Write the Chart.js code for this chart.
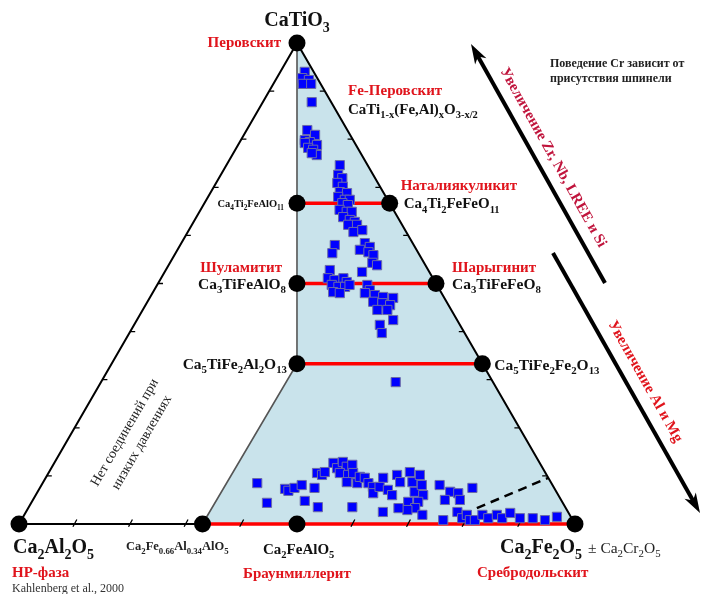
<!DOCTYPE html>
<html>
<head>
<meta charset="utf-8">
<script src="https://cdn.jsdelivr.net/npm/chart.js@4/dist/chart.umd.min.js"></script>
<style>
  html, body { margin: 0; padding: 0; background: #fff; }
  canvas { display: block; }
</style>
</head>
<body>
<canvas id="c" width="705" height="594"></canvas>
<script>
// Ternary system CaTiO3 – Ca2Al2O5 – Ca2Fe2O5.
// Compositions are mole fractions (%) of the CaTiO3 (Ti) and Ca2Fe2O5 (Fe) components;
// the Ca2Al2O5 share is the remainder.

// Analysed grains
const tiPct = [
  94.0, 92.7, 92.3, 91.5, 91.5, 87.7,
  81.9, 80.9, 79.8, 79.4, 78.8, 79.2, 78.2, 77.8, 76.7, 77.1, 74.6,
  72.6, 71.9, 70.9, 70.1, 69.0, 68.8, 68.0, 67.4, 67.4, 66.7, 66.3, 65.3, 64.9, 64.9, 63.8, 63.2, 62.8, 62.2, 62.2, 60.7, 61.1,
  58.0, 56.3,
  58.4, 57.6, 57.0, 56.5, 55.9, 54.3, 53.8, 52.4,
  52.8, 51.1, 50.7, 51.1, 50.3, 49.7, 49.3, 49.3, 49.7, 48.2, 48.0,
  49.7, 48.6, 47.6, 48.0, 47.2, 47.0, 46.2, 45.9, 45.5, 44.5, 44.5, 42.4, 41.4, 39.7,
  29.5,
  8.5, 4.4, 7.3, 6.9, 7.5, 8.1, 4.8, 7.5, 3.5, 10.6, 10.2, 10.8, 12.7, 11.6, 12.9, 11.9, 12.3, 10.6, 10.2, 10.6,
  8.7, 8.5, 9.8, 9.6, 8.5, 7.7, 6.4, 3.5, 9.6, 7.7, 7.1, 6.0, 10.2, 8.7, 10.8, 8.7, 6.7, 10.2, 8.1, 6.0,
  4.6, 4.6, 3.3, 2.9, 3.3, 2.5, 1.9, 8.1, 6.7, 5.0, 6.4, 5.0, 7.5, 0.8, 2.5, 1.2, 1.9, 0.8, 0.8, 1.9,
  1.2, 1.9, 1.2, 2.3, 1.2, 1.2, 0.8, 1.5
];
const fePct = [
  4.4, 4.6, 6.0, 5.3, 6.8, 8.8,
  10.9, 12.8, 11.5, 12.6, 14.2, 11.8, 12.9, 14.0, 15.2, 14.1, 20.4,
  21.1, 22.2, 21.8, 23.2, 23.2, 24.6, 23.4, 24.9, 25.8, 24.8, 26.0, 25.0, 26.5, 27.4, 26.4, 27.9, 29.0, 28.1, 29.7, 29.8, 31.2,
  27.8, 28.2,
  33.0, 34.3, 32.8, 34.6, 35.8, 36.4, 37.5, 35.5,
  29.5, 30.0, 31.4, 32.8, 33.8, 31.4, 32.8, 34.0, 34.6, 32.4, 33.7,
  37.8, 38.8, 40.2, 38.2, 41.9, 43.8, 40.6, 42.4, 44.0, 42.2, 44.0, 46.1, 44.2, 45.4,
  53.0,
  38.6, 42.4, 44.2, 45.0, 45.8, 46.8, 49.0, 49.4, 52.0, 48.3, 49.4, 49.6, 50.2, 51.4, 51.8, 53.0, 53.8, 52.4, 54.1, 54.8,
  54.6, 56.6, 56.4, 57.4, 58.6, 59.8, 60.5, 58.2, 60.7, 61.0, 62.8, 64.1, 62.9, 64.2, 64.9, 66.4, 67.8, 67.0, 68.4, 69.7,
  69.5, 67.7, 69.6, 68.4, 66.6, 64.2, 71.6, 71.6, 74.2, 74.1, 75.8, 76.8, 77.8, 75.9, 77.6, 79.1, 79.6, 80.7, 81.6, 82.4,
  83.8, 85.0, 86.3, 87.2, 89.5, 91.8, 94.2, 96.0
];

// Named phases (black nodes)
const phaseNames = ['CaTiO3', 'Ca4Ti2FeAlO11', 'Ca4Ti2FeFeO11', 'Ca3TiFeAlO8', 'Ca3TiFeFeO8',
  'Ca5TiFe2Al2O13', 'Ca5TiFe2Fe2O13', 'Ca2Al2O5', 'Ca2Fe0.66Al0.34AlO5', 'Ca2FeAlO5', 'Ca2Fe2O5'];
const phaseTi = [100, 66.67, 66.67, 50, 50, 33.33, 33.33, 0, 0, 0, 0];
const phaseFe = [0, 16.67, 33.33, 25, 50, 33.33, 66.67, 0, 33, 50, 100];

// Stability field of the Fe-rich solid solutions (shaded)
const fieldTi = [100, 33.33, 0, 0, 100];
const fieldFe = [0, 33.33, 33, 100, 0];

// Solid-solution joins (red): constant Ti, Fe from → to
const joinTi = [66.67, 50, 33.33, 0];
const joinFeFrom = [16.67, 25, 33.33, 33];
const joinFeTo = [33.33, 50, 66.67, 100];

// Spinel-dependent Cr limit (dashed)
const crTi = [3.3, 9.6];
const crFe = [80.7, 90.4];

// Edge ticks, %
const tickSteps = [10, 20, 30, 40, 50, 60, 70, 80, 90];

const H = Math.sqrt(3) / 2;
function tern(ti, fe) { ti /= 100; fe /= 100; return { x: fe + ti / 2, y: ti * H }; }
const GAP = { x: null, y: null };

const points = tiPct.map((t, i) => tern(t, fePct[i]));
const nodes = phaseTi.map((t, i) => tern(t, phaseFe[i]));
const field = fieldTi.map((t, i) => tern(t, fieldFe[i]));
const joins = [];
joinTi.forEach((t, i) => { joins.push(tern(t, joinFeFrom[i]), tern(t, joinFeTo[i]), GAP); });
const frame = [tern(100, 0), tern(0, 0), tern(0, 100), tern(100, 0)];
const divide = [tern(100, 0), tern(33.33, 33.33), tern(0, 33)];
const crLine = crTi.map((t, i) => tern(t, crFe[i]));

const ticks = [];
tickSteps.forEach(s => {
  const l = tern(s, 0); ticks.push(l, { x: l.x + 0.009, y: l.y }, GAP);
  const r = tern(s, 100 - s); ticks.push(r, { x: r.x - 0.009, y: r.y }, GAP);
  const b = tern(0, s); ticks.push({ x: b.x - 0.003, y: -0.005 }, { x: b.x + 0.004, y: 0.008 }, GAP);
});

function lineSet(data, color, width, order, extra) {
  return Object.assign({
    type: 'line', data, borderColor: color, borderWidth: width, pointRadius: 0,
    pointHoverRadius: 0, fill: false, tension: 0, order, clip: false, spanGaps: false
  }, extra || {});
}

const SERIF = '"Liberation Serif", "DejaVu Serif", serif';

function parseRich(s) {
  const out = []; const re = /_\{([^}]*)\}/g; let last = 0, m;
  while ((m = re.exec(s))) {
    if (m.index > last) out.push({ t: s.slice(last, m.index), sub: false });
    out.push({ t: m[1], sub: true }); last = re.lastIndex;
  }
  if (last < s.length) out.push({ t: s.slice(last), sub: false });
  return out;
}
function drawRich(ctx, s, x, y, o) {
  const size = o.size, w8 = o.bold === false ? '' : 'bold ';
  const parts = parseRich(s); let w = 0;
  parts.forEach(p => {
    ctx.font = w8 + (p.sub ? size * 0.7 : size) + 'px ' + SERIF;
    p.w = ctx.measureText(p.t).width; w += p.w;
  });
  let cx = o.align === 'right' ? x - w : o.align === 'center' ? x - w / 2 : x;
  ctx.fillStyle = o.color || '#111';
  ctx.textAlign = 'left'; ctx.textBaseline = 'alphabetic';
  parts.forEach(p => {
    ctx.font = w8 + (p.sub ? size * 0.7 : size) + 'px ' + SERIF;
    ctx.fillText(p.t, cx, y + (p.sub ? size * 0.28 : 0)); cx += p.w;
  });
}
function rotated(ctx, s, cx, cy, ang, o) {
  ctx.save(); ctx.translate(cx, cy); ctx.rotate(ang);
  drawRich(ctx, s, 0, o.size * 0.33, Object.assign({ align: 'center' }, o));
  ctx.restore();
}
function arrow(ctx, x0, y0, x1, y1) {
  const a = Math.atan2(y1 - y0, x1 - x0), hl = 20, hw = 6.5;
  ctx.save();
  ctx.strokeStyle = '#000'; ctx.lineWidth = 4; ctx.lineCap = 'butt';
  ctx.beginPath(); ctx.moveTo(x0, y0);
  ctx.lineTo(x1 - Math.cos(a) * hl * 0.7, y1 - Math.sin(a) * hl * 0.7); ctx.stroke();
  ctx.translate(x1, y1); ctx.rotate(a);
  ctx.beginPath(); ctx.moveTo(0, 0); ctx.lineTo(-hl, -hw); ctx.lineTo(-hl * 0.72, 0); ctx.lineTo(-hl, hw);
  ctx.closePath(); ctx.fillStyle = '#000'; ctx.fill();
  ctx.restore();
}

const RED = '#e0141c';

const labels = {
  id: 'labels',
  afterDraw(chart) {
    const ctx = chart.ctx, sx = chart.scales.x, sy = chart.scales.y;
    const px = i => [sx.getPixelForValue(nodes[i].x), sy.getPixelForValue(nodes[i].y)];
    ctx.save();
    const [ax, ay] = px(0);
    drawRich(ctx, 'CaTiO_{3}', ax, ay - 17, { size: 20, align: 'center' });
    drawRich(ctx, 'Перовскит', ax - 16, ay + 4, { size: 15, align: 'right', color: RED });
    drawRich(ctx, 'Fe-Перовскит', 348, 95, { size: 15, color: RED });
    drawRich(ctx, 'CaTi_{1-x}(Fe,Al)_{x}O_{3-x/2}', 348, 114, { size: 15 });

    const [a1x, a1y] = px(1), [b1x, b1y] = px(2);
    drawRich(ctx, 'Ca_{4}Ti_{2}FeAlO_{11}', a1x - 13, a1y + 4, { size: 10.5, align: 'right' });
    drawRich(ctx, 'Наталиякуликит', b1x + 11, b1y - 13, { size: 15, color: RED });
    drawRich(ctx, 'Ca_{4}Ti_{2}FeFeO_{11}', b1x + 14, b1y + 5, { size: 15 });

    const [a2x, a2y] = px(3), [b2x, b2y] = px(4);
    drawRich(ctx, 'Шуламитит', a2x - 15, a2y - 12, { size: 15, align: 'right', color: RED });
    drawRich(ctx, 'Ca_{3}TiFeAlO_{8}', a2x - 11, a2y + 5, { size: 15.5, align: 'right' });
    drawRich(ctx, 'Шарыгинит', b2x + 16, b2y - 12, { size: 15, color: RED });
    drawRich(ctx, 'Ca_{3}TiFeFeO_{8}', b2x + 16, b2y + 5, { size: 15.5 });

    const [a3x, a3y] = px(5), [b3x, b3y] = px(6);
    drawRich(ctx, 'Ca_{5}TiFe_{2}Al_{2}O_{13}', a3x - 10, a3y + 5, { size: 15.5, align: 'right' });
    drawRich(ctx, 'Ca_{5}TiFe_{2}Fe_{2}O_{13}', b3x + 12, b3y + 6, { size: 15.5 });

    drawRich(ctx, 'Ca_{2}Al_{2}O_{5}', 13, 553, { size: 20 });
    drawRich(ctx, 'HP-фаза', 12, 577, { size: 15, color: RED });
    drawRich(ctx, 'Kahlenberg et al., 2000', 12, 592, { size: 12, bold: false, color: '#333' });
    drawRich(ctx, 'Ca_{2}Fe_{0.66}Al_{0.34}AlO_{5}', 126, 550, { size: 12.5, color: '#222' });
    drawRich(ctx, 'Ca_{2}FeAlO_{5}', 263, 554, { size: 15 });
    drawRich(ctx, 'Браунмиллерит', 243, 578, { size: 15, color: RED });
    drawRich(ctx, 'Ca_{2}Fe_{2}O_{5}', 500, 553, { size: 20 });
    drawRich(ctx, '± Ca_{2}Cr_{2}O_{5}', 588, 553, { size: 15.5, bold: false, color: '#222' });
    drawRich(ctx, 'Сребродольскит', 477, 577, { size: 15, color: RED });

    drawRich(ctx, 'Поведение Cr зависит от', 550, 67, { size: 12, color: '#222' });
    drawRich(ctx, 'присутствия шпинели', 550, 82, { size: 12, color: '#222' });

    rotated(ctx, 'Нет соединений при', 124, 432, -Math.PI / 3, { size: 14, bold: false, color: '#222' });
    rotated(ctx, 'низких давлениях', 141, 442, -Math.PI / 3, { size: 14, bold: false, color: '#222' });

    arrow(ctx, 605, 283, 471, 44);
    arrow(ctx, 553, 253, 700, 513);
    rotated(ctx, 'Увеличение Zr, Nb, LREE и Si', 554, 157, Math.atan2(239, 134), { size: 15, color: '#c0143c' });
    rotated(ctx, 'Увеличение Al и Mg', 646, 381, Math.atan2(260, 147), { size: 15, color: RED });
    ctx.restore();
  }
};

new Chart(document.getElementById('c'), {
  type: 'scatter',
  data: {
    datasets: [
      lineSet(field, 'rgba(0,0,0,0)', 0, 10, { fill: 'shape', backgroundColor: '#c9e3eb' }),
      lineSet(frame, '#000', 2, 9, { borderJoinStyle: 'miter' }),
      lineSet(divide, '#555', 1.6, 8),
      lineSet(joins, '#ff0000', 3.5, 7),
      lineSet(crLine, '#000', 2.5, 6, { borderDash: [9, 6] }),
      lineSet(ticks, '#000', 1.3, 5),
      {
        type: 'scatter', data: points, pointStyle: 'rect', pointRadius: 6.5, pointHoverRadius: 6.5,
        backgroundColor: '#0000ff', borderColor: '#6b6ba6', borderWidth: 1, order: 2, clip: false
      },
      {
        type: 'scatter', data: nodes, pointStyle: 'circle', pointRadius: 8.5, pointHoverRadius: 8.5,
        backgroundColor: '#000', borderColor: '#000', borderWidth: 0, order: 1, clip: false
      }
    ]
  },
  options: {
    responsive: false,
    animation: false,
    events: [],
    layout: { padding: { left: 19, right: 130, top: 43, bottom: 70 } },
    scales: {
      x: { type: 'linear', min: 0, max: 1, display: false },
      y: { type: 'linear', min: 0, max: H, display: false }
    },
    plugins: { legend: { display: false }, tooltip: { enabled: false } }
  },
  plugins: [labels]
});
</script>
</body>
</html>
